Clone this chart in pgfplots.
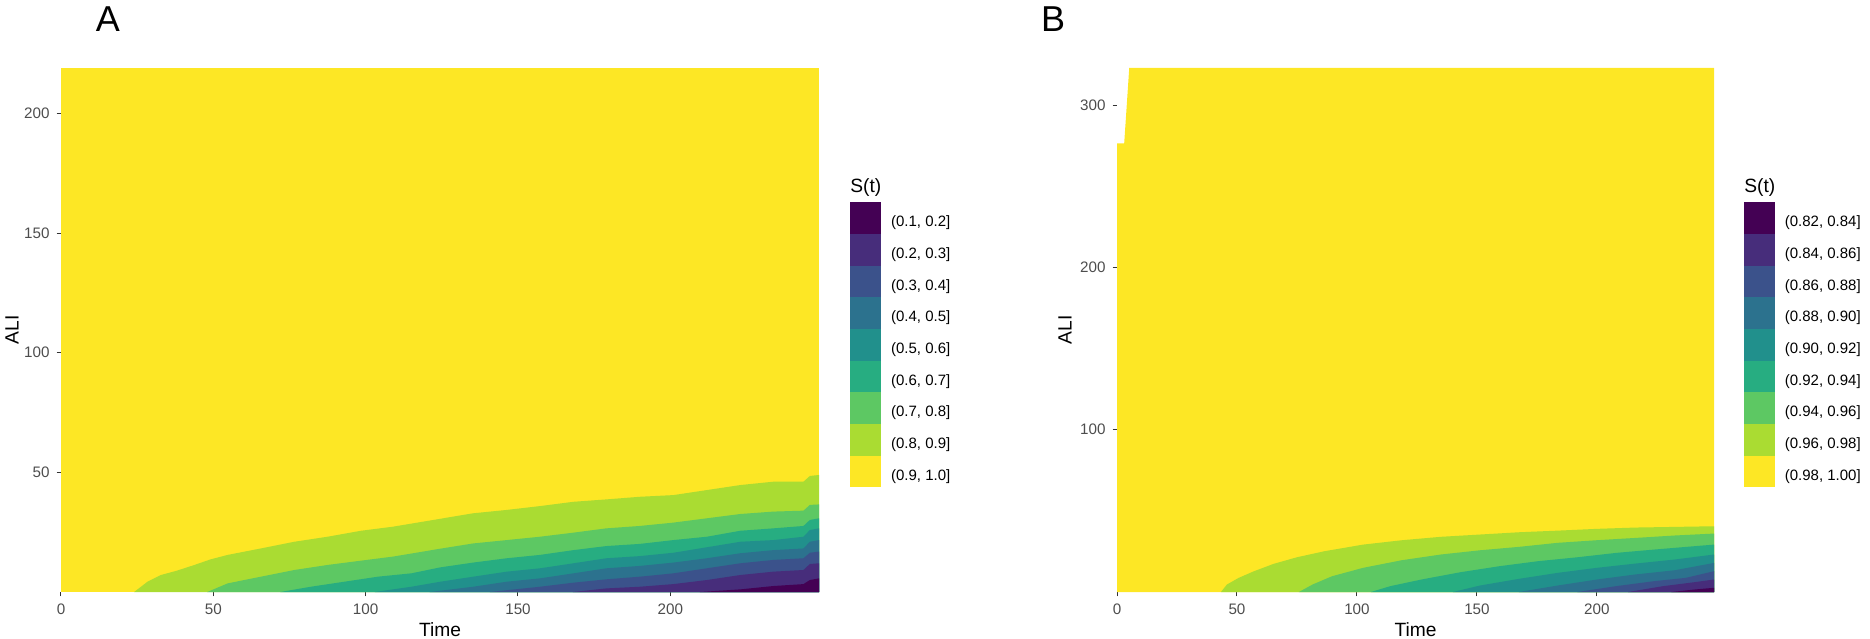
\documentclass[border=0pt]{standalone}
\usepackage{fontspec}
\setmainfont{Liberation Sans}
\usepackage{pgfplots}
\pgfplotsset{compat=1.18}
\definecolor{v1}{HTML}{440154}
\definecolor{v2}{HTML}{472D7B}
\definecolor{v3}{HTML}{3B528B}
\definecolor{v4}{HTML}{2C728E}
\definecolor{v5}{HTML}{21908C}
\definecolor{v6}{HTML}{27AD81}
\definecolor{v7}{HTML}{5DC863}
\definecolor{v8}{HTML}{AADC32}
\definecolor{v9}{HTML}{FDE725}
\definecolor{tickgray}{HTML}{4D4D4D}
\definecolor{tickline}{HTML}{333333}
\pgfplotsset{
  panel/.style={
    scale only axis, height=262pt, ymin=0, xmin=0, xmax=248.8,
    axis line style={draw=none},
    tick align=outside, major tick length=2.2pt,
    tick style={tickline, line width=0.5pt},
    xtick={0,50,100,150,200},
    xtick pos=left, ytick pos=left,
    ticklabel style={font=\fontsize{7.6}{9}\selectfont, text=tickgray},
    /pgf/number format/assume math mode=true,
    label style={font=\fontsize{9.6}{11}\selectfont},
    xlabel={Time}, ylabel={ALI},
    xlabel style={at={(axis description cs:0.5,0)}, anchor=base, yshift=-22pt},
    legend cell align=left,
    reverse legend,
    legend style={draw=none, fill=none, inner sep=0pt, outer sep=0pt,
      row sep=0pt, column sep=5pt, anchor=north west,
      nodes={inner sep=0pt, font=\fontsize{7.5}{9}\selectfont}},
    legend image code/.code={\path[##1] (0pt,-5.5pt) rectangle (15.5pt,10.35pt);},
  }
}
\begin{document}
\begin{tikzpicture}
\path[use as bounding box] (0,0) rectangle (935pt,319pt);
% ---------------- Panel A ----------------
\begin{axis}[panel, at={(30.5pt,23pt)}, anchor=south west, width=379pt,
  ymax=219, ytick={50,100,150,200},
  ylabel style={at={(axis description cs:-0.0646,0.5)}, anchor=center},
  legend style={at={(1.041,0.744)}}]
\addplot[fill=v9, draw=none] coordinates {(0,0) (248.8,0) (248.8,219) (0,219)} -- cycle;
\addlegendentry{(0.9, 1.0]}
\addplot[fill=v8, draw=none] table {
24 0
28.4 4.3
32.8 7.1
38 8.9
43.8 11.3
49 13.6
54.7 15.5
65.6 18.2
76.6 21
87.5 23.1
98.5 25.6
109 27.3
124.5 30.6
135.3 32.9
146.3 34.3
157.2 35.9
168.2 37.7
179 38.7
190 39.8
201 40.5
212 42.6
223 44.7
233.8 46.1
243.7 46.1
245.8 48.5
248.8 48.9
} \closedcycle;
\addlegendentry{(0.8, 0.9]}
\addplot[fill=v7, draw=none] table {
48 0
54.7 3.6
65.6 6.4
76.6 9.2
87.5 11.3
98.5 13.1
109 14.8
124.5 18.1
135.3 20.3
146.3 21.7
157.2 23.1
168.2 24.8
179 26.6
190 27.6
201 29.0
212 30.8
223 32.6
233.8 33.6
243.7 34.0
245.8 36.4
248.8 36.6
} \closedcycle;
\addlegendentry{(0.7, 0.8]}
\addplot[fill=v6, draw=none] table {
72 0
82 2.2
93 4.3
104 6.4
115 7.8
124.5 10.3
135.3 12.3
146.3 14.1
157.2 15.5
168.2 17.5
179 19.2
190 20.1
201 21.7
212 23.1
223 25.6
233.8 26.6
243.7 27.6
245.8 30.1
248.8 30.8
} \closedcycle;
\addlegendentry{(0.6, 0.7]}
\addplot[fill=v5, draw=none] table {
103 0
115 2.2
124.5 4.3
135.3 6.4
146.3 8.5
157.2 9.9
168.2 12.0
179 14.1
190 15.0
201 16.4
212 18.7
223 21.0
233.8 21.7
243.7 23.1
245.8 25.9
248.8 26.6
} \closedcycle;
\addlegendentry{(0.5, 0.6]}
\addplot[fill=v4, draw=none] table {
121 0
135.3 2.2
146.3 4.3
157.2 5.7
168.2 7.8
179 9.9
190 10.9
201 12.3
212 14.1
223 16.2
233.8 17.5
243.7 18.2
245.8 21.0
248.8 21.7
} \closedcycle;
\addlegendentry{(0.4, 0.5]}
\addplot[fill=v3, draw=none] table {
140.8 0
157.2 2.2
168.2 3.9
179 5.3
190 6.4
201 7.8
212 9.9
223 12.0
233.8 13.4
243.7 14.1
245.8 16.4
248.8 16.9
} \closedcycle;
\addlegendentry{(0.3, 0.4]}
\addplot[fill=v2, draw=none] table {
168 0
179 1.5
190 2.2
201 3.3
212 5.0
223 7.1
233.8 8.5
243.7 9.2
245.8 11.7
248.8 12.0
} \closedcycle;
\addlegendentry{(0.2, 0.3]}
\addplot[fill=v1, draw=none] table {
209.7 0
223 1.1
233.8 2.5
243.7 3.3
245.8 5.0
248.8 5.7
} \closedcycle;
\addlegendentry{(0.1, 0.2]}
\end{axis}
% ---------------- Panel B ----------------
\begin{axis}[panel, at={(558.5pt,23pt)}, anchor=south west, width=298.5pt,
  ymax=322.8, ytick={100,200,300},
  ylabel style={at={(axis description cs:-0.0871,0.5)}, anchor=center},
  legend style={at={(1.050,0.744)}}]
\addplot[fill=v9, draw=none] coordinates {(0,0) (248.8,0) (248.8,322.8) (5.1,322.8) (3.0,276.4) (0,276.4)} -- cycle;
\addlegendentry{(0.98, 1.00]}
\addplot[fill=v8, draw=none] table {
43.3 0
45.8 4.6
50.7 8.7
57.1 12.8
65.2 17.3
75 21.4
86.4 25.1
102.6 29.2
118.8 31.9
135 34
151.3 35.4
167.5 36.8
183.7 37.8
200 38.9
216 39.7
232.4 40.1
248.8 40.5
} \closedcycle;
\addlegendentry{(0.96, 0.98]}
\addplot[fill=v7, draw=none] table {
75.8 0
81.5 4.6
89.6 9.7
102.6 14.9
118.8 19.6
135 23.1
151.3 25.7
167.5 27.8
183.7 30.3
200 31.9
216 33.3
232.4 34.8
248.8 36
} \closedcycle;
\addlegendentry{(0.94, 0.96]}
\addplot[fill=v6, draw=none] table {
105.8 0
113.9 3.6
126.9 7.7
143.2 12.2
159.4 15.9
175.6 19
191.9 21.4
208.1 24.1
224.3 26.2
240.5 28.2
248.8 29.2
} \closedcycle;
\addlegendentry{(0.92, 0.94]}
\addplot[fill=v5, draw=none] table {
140 0
151.3 4
167.5 8.1
183.7 11.8
200 14.9
216 17.5
232.4 20
248.8 23.1
} \closedcycle;
\addlegendentry{(0.90, 0.92]}
\addplot[fill=v4, draw=none] table {
167.5 0
183.7 4
200 7.7
216 10.8
232.4 13.4
248.8 17.9
} \closedcycle;
\addlegendentry{(0.88, 0.90]}
\addplot[fill=v3, draw=none] table {
191.9 0
208 3.6
224 6.7
237 8.7
248.8 12.8
} \closedcycle;
\addlegendentry{(0.86, 0.88]}
\addplot[fill=v2, draw=none] table {
213 0
227.6 3.6
240.5 6
248.8 7.7
} \closedcycle;
\addlegendentry{(0.84, 0.86]}
\addplot[fill=v1, draw=none] table {
231 0
240.5 1.5
248.8 2.6
} \closedcycle;
\addlegendentry{(0.82, 0.84]}
\end{axis}
% titles
\node[anchor=west, inner sep=0pt, font=\fontsize{9.6}{11}\selectfont] at (425pt,225pt) {S(t)};
\node[anchor=west, inner sep=0pt, font=\fontsize{9.6}{11}\selectfont] at (872pt,225pt) {S(t)};
\node[inner sep=0pt, font=\fontsize{18}{20}\selectfont] at (54pt,309.5pt) {A};
\node[inner sep=0pt, font=\fontsize{18}{20}\selectfont] at (526.5pt,309.5pt) {B};
\end{tikzpicture}
\end{document}
